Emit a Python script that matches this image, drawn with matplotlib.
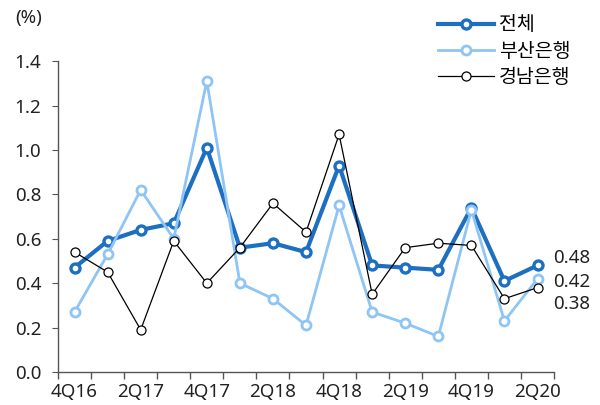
import numpy as np
import matplotlib
matplotlib.use('Agg')
import matplotlib.pyplot as plt

plt.rcParams['font.family'] = ['Noto Sans', 'Noto Sans CJK KR', 'DejaVu Sans']

# quarters, 4Q16 ~ 2Q20
quarters = ['4Q16', '1Q17', '2Q17', '3Q17', '4Q17', '1Q18', '2Q18', '3Q18',
            '4Q18', '1Q19', '2Q19', '3Q19', '4Q19', '1Q20', '2Q20']
total = [0.47, 0.59, 0.64, 0.67, 1.01, 0.56, 0.58, 0.54,
         0.93, 0.48, 0.47, 0.46, 0.74, 0.41, 0.48]
busan = [0.27, 0.53, 0.82, 0.60, 1.31, 0.40, 0.33, 0.21,
         0.75, 0.27, 0.22, 0.16, 0.73, 0.23, 0.42]
kyongnam = [0.54, 0.45, 0.19, 0.59, 0.40, 0.56, 0.76, 0.63,
            1.07, 0.35, 0.56, 0.58, 0.57, 0.33, 0.38]
series_names = ['전체', '부산은행', '경남은행']

x = np.arange(len(quarters))
fs = 13.5
txt = '#222222'

fig = plt.figure(figsize=(6, 4.05), dpi=100)
ax = fig.add_axes([0.0967, 0.0815, 0.8267, 0.7675])

l1, = ax.plot(x, total, color='#1c6fc1', lw=3.0, marker='o', ms=6.5,
              mfc='white', mec='#1c6fc1', mew=2.4, zorder=2)
l2, = ax.plot(x, busan, color='#8fc5f4', lw=2.0, marker='o', ms=6.5,
              mfc='white', mec='#8fc5f4', mew=2.0, zorder=3)
l3, = ax.plot(x, kyongnam, color='black', lw=0.9, marker='o', ms=6.5,
              mfc='white', mec='black', mew=0.9, zorder=4)

ax.set_xlim(-0.5, len(quarters) - 0.5)
ax.set_ylim(0, 1.4)
yt = np.arange(0, 1.41, 0.2)
ax.set_yticks(yt)
ax.set_yticklabels([f'{v:.1f}' for v in yt])
ax.set_xticks(x[::2])
ax.set_xticklabels(quarters[::2])
ax.set_xticks(np.arange(-0.5, len(quarters), 1), minor=True)
ax.tick_params(axis='x', which='major', length=0, pad=8, labelsize=fs, labelcolor=txt)
ax.tick_params(axis='x', which='minor', length=5, color='#555555', width=1)
ax.tick_params(axis='y', length=4, color='#555555', labelsize=fs, labelcolor=txt, pad=8)
for side in ['top', 'right']:
    ax.spines[side].set_visible(False)
for side in ['left', 'bottom']:
    ax.spines[side].set_color('#555555')
    ax.spines[side].set_linewidth(1.0)

fig.text(0.025, 0.955, '(%)', fontsize=fs, color=txt, ha='left', va='center')

# end labels
last = len(quarters) - 1
for val, dy in [(total[-1], 15), (busan[-1], -2), (kyongnam[-1], -18)]:
    ax.annotate(f'{val:.2f}', xy=(last, busan[-1]), xytext=(11, dy),
                textcoords='offset points', fontsize=fs, color=txt,
                va='center', ha='left', annotation_clip=False)

leg = fig.legend([l1, l2, l3], series_names, loc='upper left',
                 bbox_to_anchor=(0.70, 1.005), frameon=False, fontsize=14,
                 handlelength=2.9, handletextpad=0.25, labelspacing=0.32)

fig.savefig('out.png', dpi=100)
